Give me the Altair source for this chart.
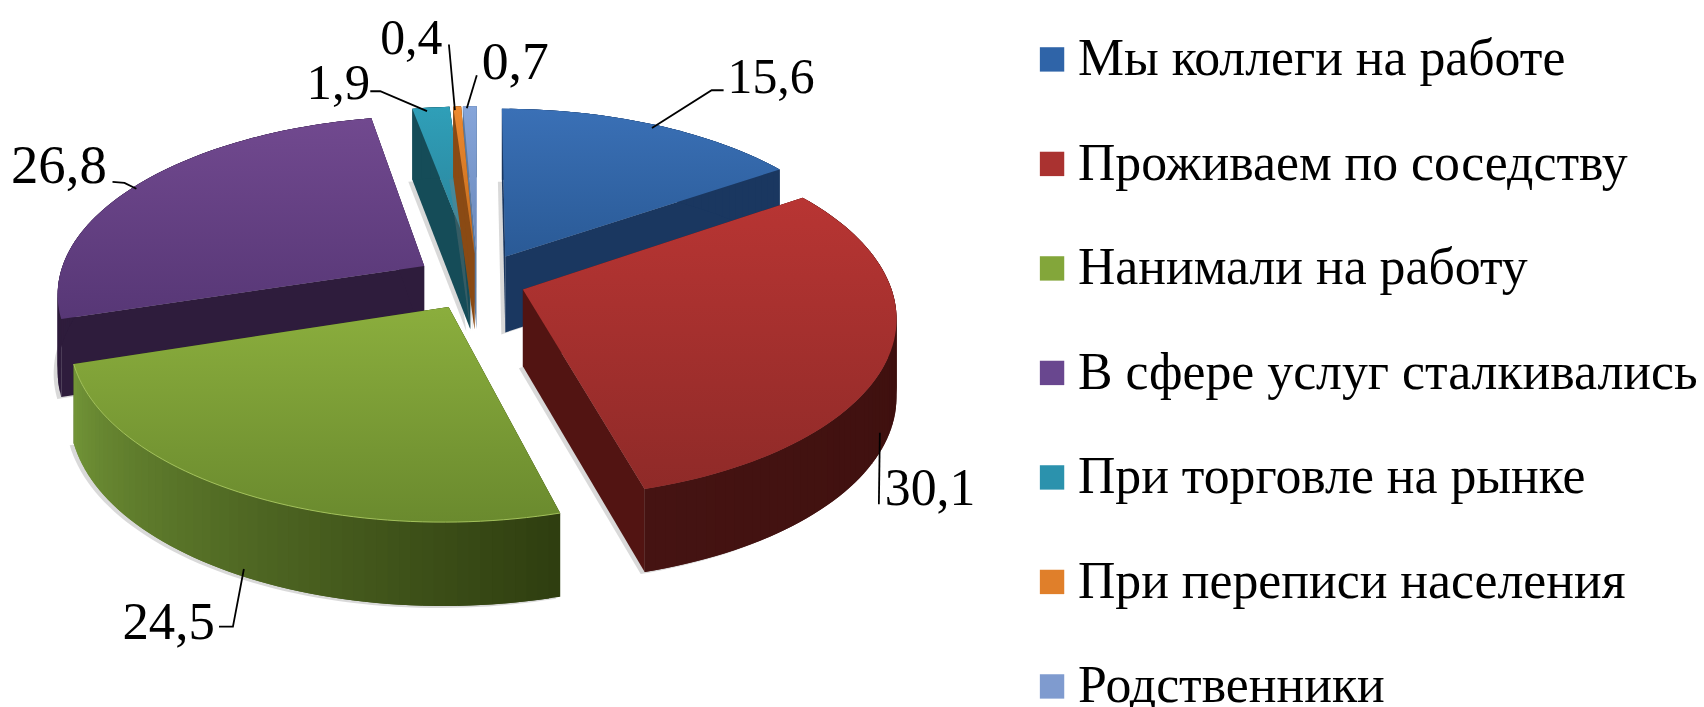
import math
import altair as alt
import pandas as pd

categories = ["Мы коллеги на работе", "Проживаем по соседству", "Нанимали на работу",
              "В сфере услуг сталкивались", "При торговле на рынке",
              "При переписи населения", "Родственники"]
values = [15.6, 30.1, 24.5, 26.8, 1.9, 0.4, 0.7]
value_labels = ["15,6", "30,1", "24,5", "26,8", "1,9", "0,4", "0,7"]

# styles
legend_colors = ["#2f64a8", "#aa3230", "#83a63a", "#69478f", "#2b92ad", "#e07f2a", "#7f9bcf"]
top_stops = [("#3a70b6", "#2a5a96"), ("#b83533", "#8f2a28"), ("#8bae3d", "#6a8a2e"),
             ("#71498f", "#573776"), ("#2f9fb8", "#2a8098"), ("#ee8a30", "#c06a1c"), ("#86a5da", "#6a88ba")]
wall_stops = [("#1a3760", "#1a3760"), ("#451312", "#3a0e0c"), ("#739638", "#2f3e10"),
              ("#2e1c3c", "#2e1c3c"), ("#154c58", "#154c58"), ("#8a4a14", "#8a4a14"), ("#5b7aa0", "#5b7aa0")]
side_walls = ["#1a3760", "#521412", "#303f10", "#2e1c3c", "#154c58", "#8a4a14", "#5b7aa0"]
paint_order = [0, 3, 4, 6, 5, 1, 2]

# layout of the tilted pie (pixels, page coordinates)
CX, CY, RAD, EXPL, TILT, PERSP, DEPTH, OFF = 480, 281, 368, 60, 0.48, 2545, 77, 8
explode_factor = [1.0, 0.8, 1.0, 1.06, 1.0, 1.0, 1.0]
FONT = "Liberation Serif"


def project(u, w):
    s = PERSP / (PERSP + w)
    return CX + u * s - OFF, CY - TILT * w * s - OFF, DEPTH * s ** 0.5


def mix(a, b, t):
    ca = [int(a[i:i + 2], 16) for i in (1, 3, 5)]
    cb = [int(b[i:i + 2], 16) for i in (1, 3, 5)]
    return "#%02x%02x%02x" % tuple(round(x + (y - x) * t) for x, y in zip(ca, cb))


def feat(points, fill):
    ring = [[round(x, 2), round(y, 2)] for x, y in points]
    ring.append(ring[0])
    return {"type": "Feature", "properties": {"fill": fill},
            "geometry": {"type": "Polygon", "coordinates": [ring]}}


total = sum(values)
start = 0.0
tops, walls, shadows, rims = [], [], [], []
for i, v in enumerate(values):
    a0 = start / total * 2 * math.pi
    a1 = (start + v) / total * 2 * math.pi
    start += v
    mid = (a0 + a1) / 2
    e = EXPL * explode_factor[i]
    au, aw = e * math.sin(mid), e * math.cos(mid)
    n = max(3, int(v * 2.4))
    arc = []
    for j in range(n + 1):
        a = a0 + (a1 - a0) * j / n
        arc.append(project(au + RAD * math.sin(a), aw + RAD * math.cos(a)))
    apex = project(au, aw)
    tops.append(feat([apex[:2]] + [p[:2] for p in arc], categories[i]))
    shadows.append(feat([(apex[0] - 4, apex[1] + apex[2] + 2)] + [(p[0] - 4, p[1] + p[2] + 2) for p in arc], "s"))
    rims.append({"type": "Feature", "properties": {},
                 "geometry": {"type": "LineString",
                              "coordinates": [[round(p[0], 2), round(p[1], 2)] for p in arc]}})
    w = []
    for p in (arc[0], arc[-1]):
        w.append(feat([apex[:2], p[:2], (p[0], p[1] + p[2]), (apex[0], apex[1] + apex[2])], side_walls[i]))
    for j in range(n):
        p, q = arc[j], arc[min(j + 2, n)]
        w.append(feat([p[:2], q[:2], (q[0], q[1] + q[2]), (p[0], p[1] + p[2])],
                      mix(wall_stops[i][1], wall_stops[i][0], j / n)))
    walls.append(w)

PROJ = dict(type="identity", scale=1, translate=[0, 0])

legend = alt.Legend(orient="none", legendX=1031 - OFF, legendY=32 - OFF, title=None, symbolType="square",
                    symbolSize=600, symbolStrokeWidth=0, symbolOpacity=1, labelFont=FONT, labelFontSize=52,
                    labelColor="#000000", labelLimit=900, rowPadding=53, labelOffset=0, padding=0,
                    symbolOffset=0)
layers = [alt.Chart(alt.Data(values=tops)).mark_geoshape(strokeWidth=0).encode(
    color=alt.Color("properties.fill:N", scale=alt.Scale(domain=categories, range=legend_colors), legend=legend)
).project(**PROJ)]

for i in paint_order:
    layers.append(alt.Chart(alt.Data(values=[shadows[i]])).mark_geoshape(
        fill="#808080", opacity=0.3, strokeWidth=0).project(**PROJ))
    layers.append(alt.Chart(alt.Data(values=walls[i])).mark_geoshape(strokeWidth=0).encode(
        fill=alt.Fill("properties.fill:N", scale=None, legend=None),
    ).project(**PROJ))
    grad = alt.Gradient(gradient="linear", x1=0, x2=0, y1=0, y2=1,
                        stops=[alt.GradientStop(color=top_stops[i][0], offset=0),
                               alt.GradientStop(color=top_stops[i][1], offset=1)])
    layers.append(alt.Chart(alt.Data(values=[tops[i]])).mark_geoshape(fill=grad, strokeWidth=0).project(**PROJ))

layers.append(alt.Chart(alt.Data(values=[rims[2]])).mark_geoshape(
    filled=False, stroke="#a3c25c", strokeWidth=1).project(**PROJ))

# data labels and leader lines (pixels, page coordinates)
label_x = [731, 889, 123, 11, 308, 382, 484]
label_y = [92, 506, 640, 182, 98, 53, 78]
label_size = [50, 52, 53, 55, 51, 50, 54]
leaders = [[(655, 127), (715, 89), (727, 89)],
           [(884, 433), (883, 505)],
           [(245, 570), (234, 628), (220, 628)],
           [(113, 181), (125, 182), (137, 188)],
           [(372, 90), (382, 90), (429, 110)],
           [(451, 43), (457, 109)],
           [(479, 74), (469, 107)]]

lab_df = pd.DataFrame({"t": value_labels, "x": [x - OFF for x in label_x], "y": [y - OFF for y in label_y],
                       "s": label_size})
rows = []
for g, line in enumerate(leaders):
    for k, (x, y) in enumerate(line):
        rows.append({"g": g, "k": k, "x": x - OFF, "y": y - OFF})
lead_df = pd.DataFrame(rows)

layers.append(alt.Chart(lead_df).mark_line(color="#000000", strokeWidth=1.8).encode(
    x=alt.X("x:Q", scale=None, axis=None), y=alt.Y("y:Q", scale=None, axis=None),
    detail="g:N", order="k:Q"))
layers.append(alt.Chart(lab_df).mark_text(font=FONT, align="left", baseline="alphabetic",
                                          color="#000000").encode(
    x=alt.X("x:Q", scale=None, axis=None), y=alt.Y("y:Q", scale=None, axis=None), text="t:N",
    size=alt.Size("s:Q", scale=None, legend=None)))

chart = alt.layer(*layers).properties(width=1696, height=699, padding=0, autosize="none",
                                      background="#ffffff").configure_view(stroke=None)
chart.save("out.html", embed_options={"renderer": "svg", "actions": False})
